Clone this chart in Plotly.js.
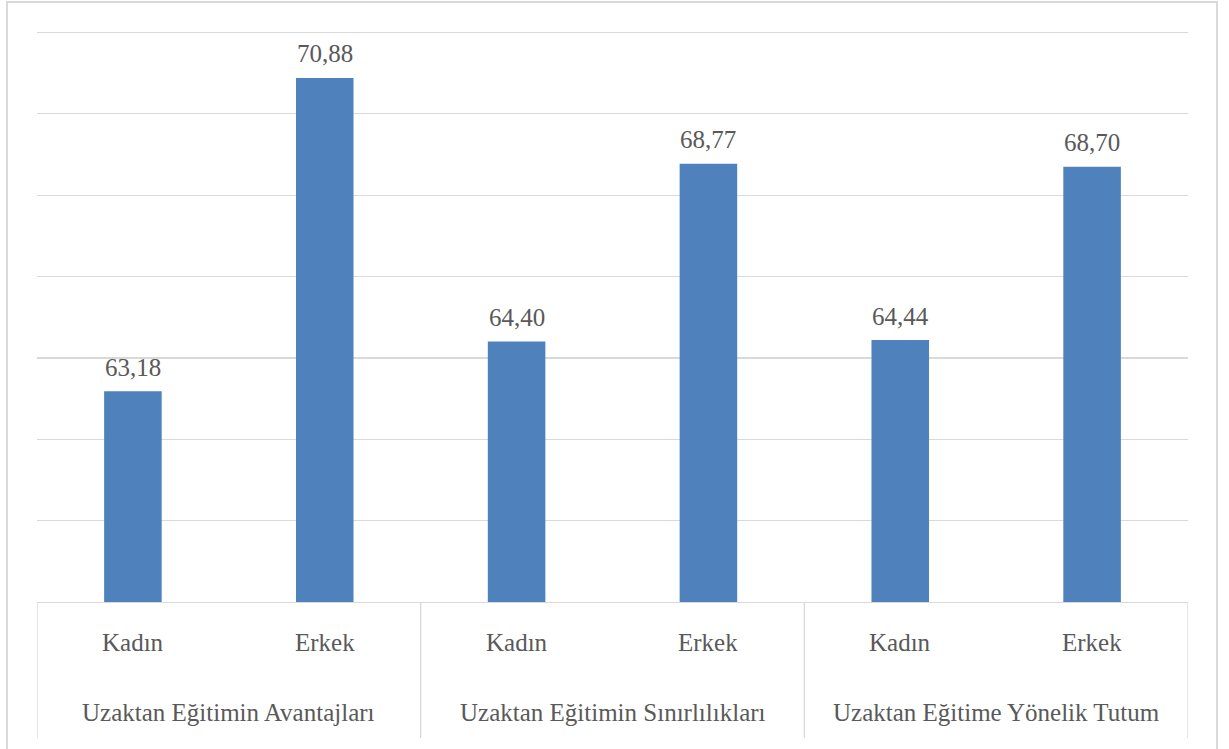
<!DOCTYPE html>
<html>
<head>
<meta charset="utf-8">
<script src="https://cdn.plot.ly/plotly-3.0.1.min.js"></script>
<style>
  html, body { margin: 0; padding: 0; background: #ffffff; overflow: hidden; }
  #chart { position: absolute; left: 0; top: 0; width: 1229px; height: 749px; }
  #frame { position: absolute; left: 6px; top: 1px; width: 1212px; height: 800px;
           border: 2px solid #d9d9d9; box-sizing: border-box; pointer-events: none; }
</style>
</head>
<body>
<div id="chart"></div>
<div id="frame"></div>
<script>
// Outer category level (scale groups) and inner level (gender)
const groups = ['Uzaktan Eğitimin Avantajları', 'Uzaktan Eğitimin Sınırlılıkları', 'Uzaktan Eğitime Yönelik Tutum'];
const genders = ['Kadın', 'Erkek'];
// Mean scores per group for each gender
const kadinValues = [63.18, 64.40, 64.44];
const erkekValues = [70.88, 68.77, 68.70];

const FONT = '"Liberation Serif", "Times New Roman", serif';
const TEXT = '#595959';
const GRID = '#d9d9d9';
const FS = 25;

// Flatten into one bar per (group, gender) slot along the x axis
const xs = [], ys = [], innerLabels = [];
groups.forEach((g, gi) => {
  const vals = [kadinValues[gi], erkekValues[gi]];
  genders.forEach((s, si) => {
    xs.push(gi * genders.length + si);
    ys.push(vals[si]);
    innerLabels.push(s);
  });
});

const fmt = v => v.toFixed(2).replace('.', ',');

const annotations = [];
// value labels above bars
xs.forEach((x, i) => {
  annotations.push({
    x: x, y: ys[i], xref: 'x', yref: 'y',
    text: fmt(ys[i]), showarrow: false,
    yanchor: 'middle', yshift: 24,
    font: { family: FONT, size: FS, color: TEXT }
  });
});
// inner category labels
xs.forEach((x, i) => {
  annotations.push({
    x: x, y: 0, xref: 'x', yref: 'paper',
    text: innerLabels[i], showarrow: false,
    yanchor: 'middle', yshift: -40,
    font: { family: FONT, size: FS, color: TEXT }
  });
});
// outer category labels
groups.forEach((g, gi) => {
  annotations.push({
    x: gi * genders.length + (genders.length - 1) / 2, y: 0, xref: 'x', yref: 'paper',
    text: g, showarrow: false,
    yanchor: 'middle', yshift: -110,
    font: { family: FONT, size: FS, color: TEXT }
  });
});

// vertical dividers between outer groups, below the axis
const shapes = [];
for (let gi = 0; gi <= groups.length; gi++) {
  const xb = gi * genders.length - 0.5;
  shapes.push({
    type: 'line', xref: 'x', yref: 'paper',
    x0: xb, x1: xb, y0: 0, y1: -0.2382,
    line: { color: GRID, width: 1.3 }
  });
}

const trace = {
  type: 'bar',
  x: xs, y: ys,
  width: 0.30,
  marker: { color: '#4f81bd', line: { width: 0 } },
  hoverinfo: 'skip'
};

const layout = {
  width: 1229, height: 749,
  margin: { l: 37, r: 41, t: 31, b: 147, pad: 0 },
  paper_bgcolor: '#ffffff', plot_bgcolor: '#ffffff',
  showlegend: false,
  xaxis: {
    range: [-0.5, xs.length - 0.5],
    showticklabels: false, ticks: '', showgrid: false, zeroline: false,
    showline: true, linecolor: GRID, linewidth: 1.3, fixedrange: true
  },
  yaxis: {
    // a little headroom so the top gridline at 72 is kept
    range: [58, 72.035], dtick: 2, tick0: 58,
    showticklabels: false, ticks: '', zeroline: false, showline: false,
    showgrid: true, gridcolor: GRID, gridwidth: 1.3, fixedrange: true
  },
  annotations: annotations,
  shapes: shapes
};

Plotly.newPlot('chart', [trace], layout, { staticPlot: true, displayModeBar: false });
</script>
</body>
</html>
